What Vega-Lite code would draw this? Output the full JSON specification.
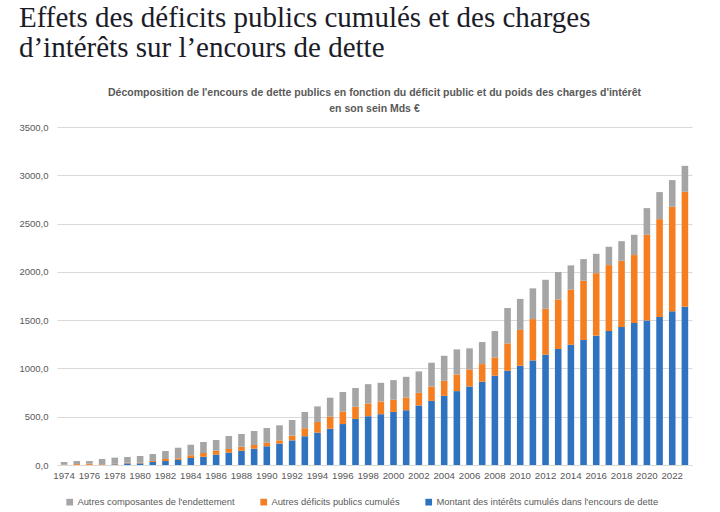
{
  "$schema": "https://vega.github.io/schema/vega-lite/v6.json",
  "padding": {"left": 18, "top": 4, "right": 27, "bottom": 4},
  "background": "white",
  "title": {
    "text": ["Effets des déficits publics cumulés et des charges", "d’intérêts sur l’encours de dette"],
    "font": "Liberation Serif",
    "fontSize": 29,
    "fontWeight": "normal",
    "color": "#1c1c28",
    "anchor": "start",
    "lineHeight": 29.5,
    "offset": 25
  },
  "vconcat": [
    {
      "width": 635,
      "height": 338,
      "title": {
        "text": ["Décomposition de l'encours de dette publics en fonction du déficit public et du poids des charges d'intérêt", "en son sein Mds €"],
        "font": "Liberation Sans",
        "fontSize": 10.5,
        "fontWeight": "bold",
        "color": "#595959",
        "anchor": "middle",
        "lineHeight": 16,
        "offset": 8
      },
      "data": {
        "values": [
          {"annee": 1974, "interets": 1, "deficits": 2, "autres": 28},
          {"annee": 1975, "interets": 1, "deficits": 9, "autres": 31},
          {"annee": 1976, "interets": 1, "deficits": 13, "autres": 27},
          {"annee": 1977, "interets": 4, "deficits": 6, "autres": 52},
          {"annee": 1978, "interets": 7, "deficits": 5, "autres": 64},
          {"annee": 1979, "interets": 17, "deficits": 7, "autres": 59},
          {"annee": 1980, "interets": 17, "deficits": 7, "autres": 69},
          {"annee": 1981, "interets": 31, "deficits": 10, "autres": 73},
          {"annee": 1982, "interets": 41, "deficits": 21, "autres": 83},
          {"annee": 1983, "interets": 52, "deficits": 17, "autres": 110},
          {"annee": 1984, "interets": 72, "deficits": 28, "autres": 110},
          {"annee": 1985, "interets": 85, "deficits": 39, "autres": 113},
          {"annee": 1986, "interets": 107, "deficits": 41, "autres": 111},
          {"annee": 1987, "interets": 128, "deficits": 38, "autres": 134},
          {"annee": 1988, "interets": 148, "deficits": 42, "autres": 131},
          {"annee": 1989, "interets": 169, "deficits": 38, "autres": 145},
          {"annee": 1990, "interets": 193, "deficits": 38, "autres": 152},
          {"annee": 1991, "interets": 221, "deficits": 34, "autres": 156},
          {"annee": 1992, "interets": 255, "deficits": 49, "autres": 162},
          {"annee": 1993, "interets": 297, "deficits": 83, "autres": 169},
          {"annee": 1994, "interets": 335, "deficits": 110, "autres": 162},
          {"annee": 1995, "interets": 376, "deficits": 124, "autres": 197},
          {"annee": 1996, "interets": 424, "deficits": 131, "autres": 201},
          {"annee": 1997, "interets": 477, "deficits": 126, "autres": 194},
          {"annee": 1998, "interets": 505, "deficits": 132, "autres": 200},
          {"annee": 1999, "interets": 526, "deficits": 131, "autres": 194},
          {"annee": 2000, "interets": 550, "deficits": 125, "autres": 204},
          {"annee": 2001, "interets": 567, "deficits": 132, "autres": 214},
          {"annee": 2002, "interets": 616, "deficits": 131, "autres": 222},
          {"annee": 2003, "interets": 664, "deficits": 149, "autres": 246},
          {"annee": 2004, "interets": 716, "deficits": 156, "autres": 259},
          {"annee": 2005, "interets": 765, "deficits": 173, "autres": 259},
          {"annee": 2006, "interets": 813, "deficits": 177, "autres": 218},
          {"annee": 2007, "interets": 862, "deficits": 183, "autres": 228},
          {"annee": 2008, "interets": 924, "deficits": 190, "autres": 273},
          {"annee": 2009, "interets": 976, "deficits": 283, "autres": 367},
          {"annee": 2010, "interets": 1028, "deficits": 371, "autres": 321},
          {"annee": 2011, "interets": 1083, "deficits": 428, "autres": 318},
          {"annee": 2012, "interets": 1142, "deficits": 476, "autres": 300},
          {"annee": 2013, "interets": 1201, "deficits": 514, "autres": 283},
          {"annee": 2014, "interets": 1245, "deficits": 570, "autres": 252},
          {"annee": 2015, "interets": 1294, "deficits": 614, "autres": 224},
          {"annee": 2016, "interets": 1339, "deficits": 648, "autres": 200},
          {"annee": 2017, "interets": 1387, "deficits": 683, "autres": 190},
          {"annee": 2018, "interets": 1428, "deficits": 687, "autres": 203},
          {"annee": 2019, "interets": 1470, "deficits": 704, "autres": 210},
          {"annee": 2020, "interets": 1497, "deficits": 887, "autres": 276},
          {"annee": 2021, "interets": 1532, "deficits": 1014, "autres": 280},
          {"annee": 2022, "interets": 1591, "deficits": 1083, "autres": 276},
          {"annee": 2023, "interets": 1639, "deficits": 1190, "autres": 269}
        ]
      },
      "transform": [
        {"fold": ["interets", "deficits", "autres"], "as": ["serie", "montant"]}
      ],
      "mark": {"type": "bar"},
      "encoding": {
        "x": {
          "field": "annee",
          "type": "ordinal",
          "scale": {"paddingInner": 0.48, "paddingOuter": 0.3},
          "axis": {
            "title": null,
            "values": [1974,1976,1978,1980,1982,1984,1986,1988,1990,1992,1994,1996,1998,2000,2002,2004,2006,2008,2010,2012,2014,2016,2018,2020,2022],
            "labelAngle": 0,
            "labelFont": "Liberation Sans",
            "labelFontSize": 9.7,
            "labelColor": "#595959",
            "labelPadding": 5,
            "ticks": false,
            "domainColor": "#d9d9d9",
            "grid": false
          }
        },
        "y": {
          "field": "montant",
          "type": "quantitative",
          "stack": "zero",
          "scale": {"domain": [0, 3500], "nice": false},
          "axis": {
            "title": null,
            "values": [0, 500, 1000, 1500, 2000, 2500, 3000, 3500],
            "labelExpr": "replace(format(datum.value, '.1f'), '.', ',')",
            "labelFont": "Liberation Sans",
            "labelFontSize": 9.5,
            "labelColor": "#595959",
            "labelPadding": 9,
            "ticks": false,
            "domain": false,
            "gridColor": "#d9d9d9",
            "gridWidth": 1
          }
        },
        "color": {
          "field": "serie",
          "type": "nominal",
          "scale": {
            "domain": ["autres", "deficits", "interets"],
            "range": ["#a5a5a5", "#f57f20", "#2e72c0"]
          },
          "legend": {
            "title": null,
            "orient": "none",
            "direction": "horizontal",
            "legendX": 8,
            "legendY": 370,
            "symbolType": "square",
            "symbolSize": 45,
            "symbolStrokeWidth": 0,
            "labelFont": "Liberation Sans",
            "labelFontSize": 9.4,
            "labelColor": "#595959",
            "labelOffset": 3,
            "columnPadding": 24,
            "labelLimit": 400,
            "labelExpr": "datum.value == 'autres' ? \"Autres composantes de l'endettement\" : datum.value == 'deficits' ? 'Autres déficits publics cumulés' : \"Montant des intérêts cumulés dans l'encours de dette\""
          }
        },
        "order": {"field": "serie", "sort": "descending"}
      }
    }
  ],
  "config": {
    "view": {"stroke": null}
  }
}
